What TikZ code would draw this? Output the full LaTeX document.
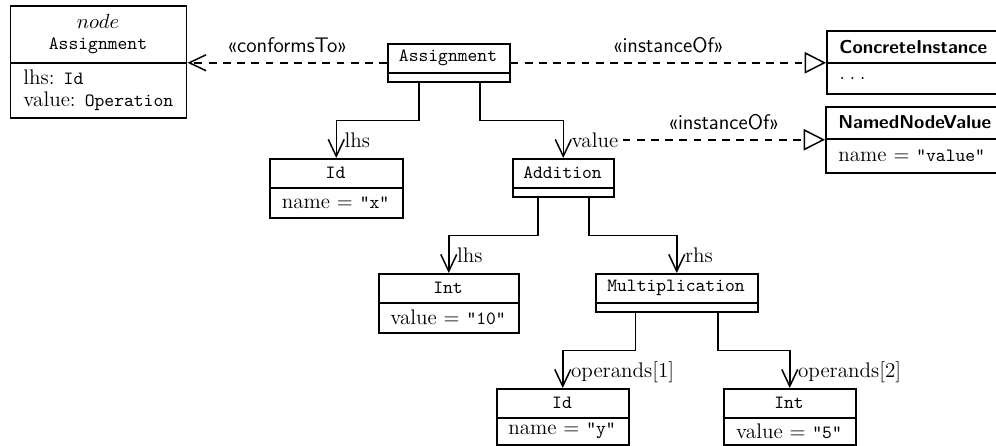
\documentclass[tikz,border=0pt]{standalone}
\usetikzlibrary{arrows.meta,calc}

% one drawing unit = one pixel of the layout grid
\newcommand\pxu{0.535}
% text sizes: roman/sans body text and the smaller code face
\newcommand\basefont{\fontsize{11.3}{11.5}\selectfont}
\newcommand\code[1]{{\fontsize{10}{11.5}\selectfont\texttt{#1}}}
\newcommand\clsname[1]{{\fontsize{10}{11.5}\selectfont\sffamily\bfseries #1}}

\tikzset{
  grid/.style={x=\pxu pt, y=-\pxu pt},
  ln/.style={line width=0.8pt},
  frame/.style={ln, draw, inner sep=0, anchor=north west},
  ctext/.style={inner sep=0},
  ctr/.style={anchor=center, align=center},
  lft/.style={anchor=west, align=left, xshift=-\clshalf pt},
  assoc/.style={ln, -{Straight Barb[length=9pt, width=8.5pt]}},
  conform/.style={ln, dash pattern=on 4.2pt off 3.4pt, -{Straight Barb[length=9pt, width=8.5pt]}},
  instof/.style={ln, dash pattern=on 4.2pt off 3.4pt, -{Triangle[open, length=11.5pt, width=11.5pt, fill=white]}},
  stereo/.style={font=\basefont\sffamily, above=5pt, inner sep=0},
  role/.style={anchor=base west, inner sep=0},
}

% UML class box: name, (x,y) of top-left corner, width, header height,
% body height, header alignment, header text, body alignment, body text
\newcommand\umlclass[9]{%
  \node[frame, minimum width=#3*\pxu pt, minimum height=(#4+#5)*\pxu pt] (#1) at #2 {};
  \draw[ln] ($(#1.north west)+(0,#4)$) -- ++(#3,0);
  \pgfmathsetmacro\clshalf{(#3/2-13)*\pxu}%
  \node[ctext, #6] at ($(#1.north west)+(#3/2,#4/2)$) {#7};
  \node[ctext, #8] at ($(#1.north west)+(#3/2,#4+#5/2)$) {#9};
}

\begin{document}
\begin{tikzpicture}[grid, font=\basefont]
  \useasboundingbox (0,0) rectangle (996,445);

  % meta-model node and instance classes
  \umlclass{meta}{(10,5)}{176}{58}{54}{ctr}{$node$\\\code{Assignment}}{lft}{lhs: \code{Id}\\value: \code{Operation}}
  \umlclass{concrete}{(826,30)}{190}{33}{30}{lft}{\clsname{ConcreteInstance}}{lft}{.\kern2.4pt.\kern2.4pt.}
  \umlclass{nnv}{(825,106)}{190}{33}{33}{lft}{\clsname{NamedNodeValue}}{lft}{name $=$ \code{"value"}}

  % object tree
  \umlclass{assign}{(387,43)}{122}{30}{8}{ctr}{\code{Assignment}}{ctr}{}
  \umlclass{idx}{(269,158)}{133}{30}{29}{ctr}{\code{Id}}{ctr}{name $=$ \code{"x"}}
  \umlclass{add}{(512,158)}{101}{30}{8}{ctr}{\code{Addition}}{ctr}{}
  \umlclass{int10}{(378,273)}{140}{30}{29}{ctr}{\code{Int}}{ctr}{value $=$ \code{"10"}}
  \umlclass{mult}{(595,273)}{162}{30}{8}{ctr}{\code{Multiplication}}{ctr}{}
  \umlclass{idy}{(496,388)}{132}{30}{26}{ctr}{\code{Id}}{ctr}{name $=$ \code{"y"}}
  \umlclass{int5}{(723,388)}{132}{30}{26}{ctr}{\code{Int}}{ctr}{value $=$ \code{"5"}}

  % dependencies
  \draw[conform] (assign.west) -- node[stereo] {«conformsTo»} (assign.west -| meta.east);
  \draw[instof] (assign.east) -- node[stereo] {«instanceOf»} (assign.east -| concrete.west);

  % associations
  \draw[assoc] ($(assign.south)+(-30,0)$) -- ++(0,38) -| (idx.north);
  \draw[assoc] ($(assign.south)+(31,0)$) -- ++(0,38) -| (add.north);
  \draw[assoc] ($(add.south)+(-25.5,0)$) -- ++(0,38) -| (int10.north);
  \draw[assoc] ($(add.south)+(25.5,0)$) -- ++(0,38) -| (mult.north);
  \draw[assoc] ($(mult.south)+(-41.5,0)$) -- ++(0,38) -| (idy.north);
  \draw[assoc] ($(mult.south)+(41,0)$) -- ++(0,38) -| (int5.north);

  % role names
  \node[role] at ($(idx.north)+(8,-11)$) {lhs};
  \node[role] (vlbl) at ($(add.north)+(8,-11)$) {value};
  \node[role] at ($(int10.north)+(8,-11)$) {lhs};
  \node[role] at ($(mult.north)+(8,-11)$) {rhs};
  \node[role] at ($(idy.north)+(8,-11)$) {operands[1]};
  \node[role] at ($(int5.north)+(8,-11)$) {operands[2]};

  \coordinate (vstart) at ($(vlbl.east |- nnv.west)+(4,0)$);
  \draw[instof] (vstart) -- node[stereo] {«instanceOf»} (nnv.west);
\end{tikzpicture}
\end{document}
